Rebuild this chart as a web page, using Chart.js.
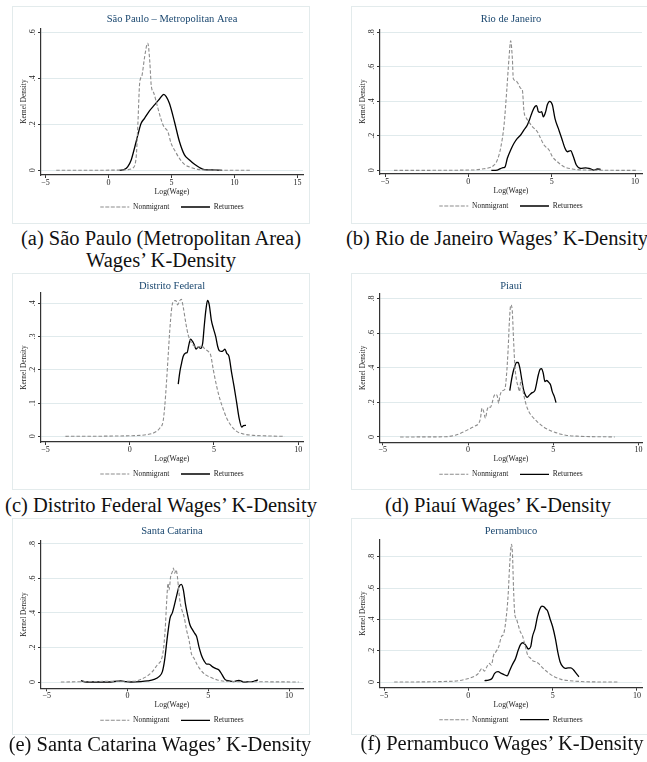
<!DOCTYPE html>
<html>
<head>
<meta charset="utf-8">
<script src="https://cdn.jsdelivr.net/npm/chart.js@4.4.1/dist/chart.umd.min.js"></script>
<style>
  body { margin: 0; width: 647px; height: 762px; overflow: hidden; background: #fff; position: relative; font-family: "Liberation Serif", "Times New Roman", serif; }
  .frame { position: absolute; border: 1px solid #e3ebec; box-sizing: border-box; width: 298px; }
  canvas { position: absolute; }
  .cap { position: absolute; width: 340px; text-align: center; font-size: 20.5px; line-height: 22px; color: #111; white-space: nowrap; }
</style>
</head>
<body>
<div class="frame" style="left:12px;top:6px;height:218px"></div>
<div class="frame" style="left:351px;top:6px;height:218px"></div>
<div class="frame" style="left:12px;top:273px;height:217px"></div>
<div class="frame" style="left:351px;top:273px;height:217px"></div>
<div class="frame" style="left:12px;top:518px;height:217px"></div>
<div class="frame" style="left:351px;top:518px;height:217px"></div>

<canvas id="ca" width="320" height="218" style="left:12px;top:6px"></canvas>
<canvas id="cb" width="320" height="218" style="left:351px;top:6px"></canvas>
<canvas id="cc" width="320" height="217" style="left:12px;top:273px"></canvas>
<canvas id="cd" width="320" height="217" style="left:351px;top:273px"></canvas>
<canvas id="ce" width="320" height="217" style="left:12px;top:518px"></canvas>
<canvas id="cf" width="320" height="217" style="left:351px;top:518px"></canvas>

<div class="cap" style="left:-9px;top:227px">(a) São Paulo (Metropolitan Area)<br>Wages’ K-Density</div>
<div class="cap" style="left:327px;top:227px">(b) Rio de Janeiro Wages’ K-Density</div>
<div class="cap" style="left:-9px;top:494px">(c) Distrito Federal Wages’ K-Density</div>
<div class="cap" style="left:328px;top:494px">(d) Piauí Wages’ K-Density</div>
<div class="cap" style="left:-10px;top:733px">(e) Santa Catarina Wages’ K-Density</div>
<div class="cap" style="left:332px;top:732px">(f) Pernambuco Wages’ K-Density</div>

<script>
  // panel titles and tick values
  let titles = ['São Paulo – Metropolitan Area', 'Rio de Janeiro', 'Distrito Federal', 'Piauí', 'Santa Catarina', 'Pernambuco'];
  let seriesNames = ['Nonmigrant', 'Returnees'];
  let xTicksWide = [-5, 0, 5, 10, 15];
  let xTicks = [-5, 0, 5, 10];
  let yTicks6 = [0, 0.2, 0.4, 0.6];
  let yTicks8 = [0, 0.2, 0.4, 0.6, 0.8];
  let yTicks4 = [0, 0.1, 0.2, 0.3, 0.4];

  // (a) Sao Paulo
  let spNonX = [-4.15, 0.9, 1.53, 1.93, 2.2, 2.33, 2.46, 2.55, 2.65, 2.86, 3.07, 3.12, 3.28, 3.39, 3.6, 3.92, 4.18, 4.39, 4.71, 4.97, 5.24, 5.63, 6.03, 6.56, 7.09, 8.15, 11.35];
  let spNonY = [0, 0.001, 0.003, 0.01, 0.06, 0.2, 0.37, 0.4, 0.41, 0.49, 0.55, 0.552, 0.47, 0.37, 0.335, 0.27, 0.22, 0.19, 0.168, 0.117, 0.088, 0.052, 0.026, 0.012, 0.004, 0.001, 0];
  let spRetX = [0.87, 1.27, 1.53, 1.8, 2.06, 2.33, 2.59, 2.86, 3.25, 3.65, 4.05, 4.39, 4.58, 4.84, 5.24, 5.63, 6.03, 6.43, 6.83, 7.22, 7.62, 8.15, 9.02];
  let spRetY = [0, 0.004, 0.016, 0.045, 0.096, 0.154, 0.204, 0.226, 0.258, 0.284, 0.31, 0.33, 0.32, 0.29, 0.21, 0.125, 0.067, 0.045, 0.026, 0.012, 0.003, 0.002, 0];

  // (b) Rio de Janeiro
  let rjNonX = [-4.46, 0.24, 0.84, 1.24, 1.54, 1.74, 1.94, 2.14, 2.3, 2.44, 2.54, 2.64, 2.7, 2.84, 3.0, 3.14, 3.24, 3.34, 3.44, 3.64, 3.84, 4.14, 4.34, 4.54, 4.84, 5.04, 5.34, 5.74, 6.24, 7.04, 10.1];
  let rjNonY = [0, 0.002, 0.008, 0.015, 0.03, 0.06, 0.13, 0.26, 0.456, 0.65, 0.75, 0.65, 0.53, 0.52, 0.5, 0.475, 0.466, 0.34, 0.31, 0.28, 0.253, 0.224, 0.185, 0.147, 0.118, 0.08, 0.05, 0.021, 0.008, 0.002, 0];
  let rjRetX = [1.38, 1.74, 2.04, 2.2, 2.34, 2.54, 2.74, 2.94, 3.14, 3.34, 3.54, 3.68, 3.84, 4.0, 4.1, 4.2, 4.3, 4.4, 4.5, 4.64, 4.74, 4.88, 5.04, 5.2, 5.4, 5.6, 5.8, 5.94, 6.14, 6.3, 6.48, 6.74, 7.04, 7.24, 7.54, 7.74, 7.94];
  let rjRetY = [0, 0.002, 0.015, 0.02, 0.07, 0.118, 0.157, 0.185, 0.205, 0.234, 0.263, 0.296, 0.34, 0.37, 0.375, 0.34, 0.336, 0.34, 0.31, 0.34, 0.38, 0.4, 0.38, 0.3, 0.243, 0.186, 0.128, 0.108, 0.114, 0.08, 0.031, 0.012, 0.015, 0.012, 0.002, 0.008, 0.006];

  // (c) Distrito Federal
  let dfNonX = [-3.81, 0.2, 0.99, 1.49, 1.79, 1.98, 2.08, 2.18, 2.28, 2.38, 2.48, 2.58, 2.74, 2.84, 2.94, 3.06, 3.17, 3.33, 3.47, 3.67, 3.87, 4.07, 4.27, 4.46, 4.66, 4.8, 4.96, 5.16, 5.36, 5.56, 5.75, 6.05, 6.35, 6.75, 7.34, 8.33, 9.2];
  let dfNonY = [0, 0.002, 0.005, 0.012, 0.025, 0.045, 0.09, 0.16, 0.24, 0.32, 0.38, 0.405, 0.408, 0.395, 0.405, 0.412, 0.39, 0.34, 0.305, 0.28, 0.27, 0.268, 0.272, 0.262, 0.255, 0.245, 0.2, 0.15, 0.11, 0.08, 0.055, 0.03, 0.015, 0.007, 0.003, 0.001, 0];
  let dfRetX = [2.88, 2.98, 3.08, 3.17, 3.31, 3.41, 3.51, 3.61, 3.73, 3.83, 3.93, 4.07, 4.21, 4.33, 4.42, 4.52, 4.62, 4.72, 4.84, 4.96, 5.1, 5.22, 5.32, 5.46, 5.56, 5.65, 5.75, 5.89, 6.05, 6.19, 6.35, 6.49, 6.65, 6.75, 6.9];
  let dfRetY = [0.157, 0.195, 0.22, 0.24, 0.25, 0.252, 0.275, 0.292, 0.285, 0.275, 0.262, 0.268, 0.264, 0.28, 0.33, 0.38, 0.408, 0.395, 0.35, 0.325, 0.3, 0.27, 0.257, 0.255, 0.258, 0.262, 0.25, 0.24, 0.19, 0.15, 0.1, 0.055, 0.028, 0.032, 0.033];

  // (d) Piaui
  let piNonX = [-3.98, -1.33, -0.75, -0.35, 0.04, 0.43, 0.63, 0.73, 0.82, 0.92, 1.02, 1.12, 1.22, 1.31, 1.41, 1.51, 1.61, 1.71, 1.8, 1.86, 2.0, 2.16, 2.25, 2.35, 2.43, 2.51, 2.59, 2.67, 2.75, 2.84, 2.94, 3.02, 3.1, 3.18, 3.29, 3.41, 3.57, 3.76, 3.96, 4.16, 4.45, 4.75, 5.14, 5.73, 6.5, 8.6];
  let piNonY = [0, 0.001, 0.01, 0.025, 0.044, 0.064, 0.079, 0.108, 0.166, 0.146, 0.108, 0.156, 0.175, 0.171, 0.195, 0.233, 0.247, 0.237, 0.195, 0.233, 0.266, 0.276, 0.349, 0.503, 0.676, 0.763, 0.734, 0.561, 0.407, 0.33, 0.29, 0.262, 0.33, 0.29, 0.233, 0.185, 0.146, 0.118, 0.098, 0.079, 0.056, 0.04, 0.025, 0.01, 0.004, 0];
  let piRetX = [2.45, 2.55, 2.65, 2.75, 2.84, 2.94, 3.04, 3.14, 3.24, 3.33, 3.47, 3.61, 3.76, 3.92, 4.02, 4.12, 4.22, 4.31, 4.41, 4.51, 4.61, 4.75, 4.84, 4.94, 5.06, 5.16];
  let piRetY = [0.268, 0.33, 0.378, 0.41, 0.43, 0.43, 0.397, 0.339, 0.281, 0.249, 0.229, 0.243, 0.256, 0.268, 0.31, 0.358, 0.391, 0.395, 0.368, 0.32, 0.326, 0.314, 0.3, 0.262, 0.233, 0.198];

  // (e) Santa Catarina
  let scNonX = [-4.12, -0.41, 0.41, 0.82, 1.23, 1.54, 1.85, 2.1, 2.22, 2.33, 2.43, 2.51, 2.57, 2.67, 2.78, 2.84, 2.92, 3.0, 3.09, 3.17, 3.25, 3.37, 3.5, 3.66, 3.81, 3.95, 4.12, 4.32, 4.53, 4.84, 5.14, 5.56, 6.07, 8.85, 10.6];
  let scNonY = [0, 0.004, 0.004, 0.015, 0.035, 0.06, 0.1, 0.131, 0.186, 0.3, 0.475, 0.572, 0.533, 0.61, 0.64, 0.66, 0.63, 0.65, 0.61, 0.533, 0.466, 0.417, 0.379, 0.3, 0.243, 0.166, 0.137, 0.099, 0.07, 0.041, 0.027, 0.012, 0.004, 0.001, 0];
  let scRetX = [-2.88, -2.57, -1.23, -0.41, -0.1, 0.21, 0.82, 1.23, 1.65, 1.95, 2.16, 2.3, 2.47, 2.63, 2.78, 2.88, 3.05, 3.19, 3.33, 3.46, 3.58, 3.7, 3.87, 4.01, 4.16, 4.28, 4.42, 4.57, 4.73, 4.9, 5.04, 5.25, 5.45, 5.66, 5.86, 6.03, 6.28, 6.58, 6.89, 7.2, 7.51, 7.82, 8.07];
  let scRetY = [0.008, 0, 0, 0.006, 0.002, 0, 0.002, 0.006, 0.015, 0.031, 0.06, 0.128, 0.263, 0.369, 0.402, 0.437, 0.504, 0.553, 0.566, 0.533, 0.456, 0.398, 0.33, 0.305, 0.282, 0.263, 0.205, 0.157, 0.124, 0.104, 0.104, 0.089, 0.079, 0.07, 0.041, 0.015, 0.006, 0.002, 0.01, 0, 0.002, 0.004, 0.012];

  // (f) Pernambuco
  let peNonX = [-4.4, -0.8, -0.2, 0.3, 0.6, 0.8, 0.96, 1.1, 1.24, 1.36, 1.5, 1.64, 1.8, 1.96, 2.1, 2.24, 2.36, 2.44, 2.52, 2.56, 2.62, 2.68, 2.76, 2.84, 2.96, 3.08, 3.2, 3.36, 3.52, 3.7, 3.84, 4.0, 4.16, 4.3, 4.5, 4.8, 5.1, 5.5, 6.0, 7.0, 8.94];
  let peNonY = [0, 0.006, 0.017, 0.034, 0.055, 0.087, 0.07, 0.098, 0.119, 0.108, 0.172, 0.194, 0.226, 0.289, 0.31, 0.406, 0.555, 0.726, 0.853, 0.879, 0.81, 0.598, 0.428, 0.406, 0.364, 0.321, 0.3, 0.236, 0.172, 0.151, 0.134, 0.13, 0.119, 0.102, 0.081, 0.055, 0.034, 0.017, 0.009, 0.002, 0];
  let peRetX = [0.96, 1.2, 1.4, 1.56, 1.76, 1.96, 2.16, 2.3, 2.44, 2.6, 2.8, 2.96, 3.1, 3.24, 3.4, 3.56, 3.7, 3.8, 3.96, 4.1, 4.24, 4.36, 4.48, 4.6, 4.7, 4.84, 5.0, 5.16, 5.3, 5.44, 5.6, 5.76, 5.92, 6.08, 6.24, 6.4, 6.56];
  let peRetY = [0.009, 0.013, 0.023, 0.055, 0.066, 0.055, 0.045, 0.04, 0.07, 0.109, 0.151, 0.204, 0.24, 0.251, 0.236, 0.211, 0.226, 0.289, 0.343, 0.417, 0.466, 0.485, 0.481, 0.466, 0.453, 0.406, 0.353, 0.279, 0.194, 0.13, 0.098, 0.087, 0.091, 0.091, 0.077, 0.055, 0.034];

  let serif = "'Liberation Serif', 'Times New Roman', serif";
  Chart.defaults.font.family = serif;

  let panels = [
    { id: 'ca', h: 218, plotTop: 22.3, padB: 3.25, title: titles[0], xMin: -5.36, xMax: 15.44, yMin: -0.0204, yMax: 0.617, xT: xTicksWide, yT: yTicks6, nx: spNonX, ny: spNonY, rx: spRetX, ry: spRetY },
    { id: 'cb', h: 218, plotTop: 23.3, padB: 4.25, title: titles[1], xMin: -5.3, xMax: 10.42, yMin: -0.021, yMax: 0.817, xT: xTicks, yT: yTicks8, nx: rjNonX, ny: rjNonY, rx: rjRetX, ry: rjRetY },
    { id: 'cc', h: 217, plotTop: 20, padB: 2.25, title: titles[2], xMin: -5.26, xMax: 10.28, yMin: -0.017, yMax: 0.4306, xT: xTicks, yT: yTicks4, nx: dfNonX, ny: dfNonY, rx: dfRetX, ry: dfRetY },
    { id: 'cd', h: 217, plotTop: 20.3, padB: 1.95, title: titles[3], xMin: -5.16, xMax: 10.2, yMin: -0.031, yMax: 0.83, xT: xTicks, yT: yTicks8, nx: piNonX, ny: piNonY, rx: piRetX, ry: piRetY },
    { id: 'ce', h: 217, plotTop: 22.7, padB: 0.95, title: titles[4], xMin: -5.35, xMax: 10.86, yMin: -0.0365, yMax: 0.819, xT: xTicks, yT: yTicks8, nx: scNonX, ny: scNonY, rx: scRetX, ry: scRetY },
    { id: 'cf', h: 217, plotTop: 21.3, padB: 1.55, title: titles[5], xMin: -5.24, xMax: 10.3, yMin: -0.036, yMax: 0.911, xT: xTicks, yT: yTicks8, nx: peNonX, ny: peNonY, rx: peRetX, ry: peRetY }
  ];

  function toPoints(xs, ys) {
    let pts = [];
    for (let i in xs) {
      pts.push({ x: xs[i], y: ys[i] });
    }
    return pts;
  }

  function fmtX(value) {
    return value < 0 ? '\u2212' + (-value) : String(value);
  }

  function fmtY(value) {
    return value === 0 ? '0' : String(value).replace(/^0/, '');
  }

  function makeChart(p) {
    let graphTarget = document.getElementById(p.id);
    new Chart(graphTarget, {
      type: 'line',
      data: {
        datasets: [{
          label: seriesNames[0],
          data: toPoints(p.nx, p.ny),
          borderColor: '#8c8c8c',
          backgroundColor: 'rgba(0,0,0,0)',
          borderWidth: 1.1,
          borderDash: [3.5, 2],
          pointRadius: 0,
          cubicInterpolationMode: 'monotone',
          fill: false
        }, {
          label: seriesNames[1],
          data: toPoints(p.rx, p.ry),
          borderColor: '#000000',
          backgroundColor: 'rgba(0,0,0,0)',
          borderWidth: 1.3,
          pointRadius: 0,
          cubicInterpolationMode: 'monotone',
          fill: false
        }]
      },
      options: {
        responsive: false,
        animation: false,
        events: [],
        layout: { padding: { left: 0, right: 0, top: 0, bottom: p.padB } },
        plugins: {
          title: {
            display: true,
            text: p.title,
            color: '#1a476f',
            font: { family: serif, size: 10.5, weight: 'normal' },
            padding: { top: 7, bottom: p.plotTop - 19.6 }
          },
          legend: {
            position: 'bottom',
            labels: {
              boxWidth: 29,
              boxHeight: 0,
              padding: 11.7,
              color: '#222',
              font: { family: serif, size: 7.5 }
            }
          },
          tooltip: { enabled: false }
        },
        scales: {
          x: {
            type: 'linear',
            min: p.xMin,
            max: p.xMax,
            afterBuildTicks: function(s) { s.ticks = p.xT.map(v => ({ value: v })); },
            afterFit: function(s) { s.height = 16.55; },
            grid: { drawOnChartArea: false, drawTicks: true, tickLength: 3, tickColor: '#333' },
            border: { color: '#333', width: 1.2 },
            ticks: { padding: 0, maxRotation: 0, color: '#222', font: { family: serif, size: 8 }, callback: fmtX },
            title: { display: true, text: 'Log(Wage)', color: '#222', font: { family: serif, size: 7.7 }, padding: { top: 0, bottom: -5 } }
          },
          y: {
            type: 'linear',
            position: 'left',
            min: p.yMin,
            max: p.yMax,
            afterBuildTicks: function(s) { s.ticks = p.yT.map(v => ({ value: v })); },
            afterFit: function(s) { s.width = 29; },
            grid: { color: '#e0eaec', lineWidth: 1, tickColor: '#333', tickLength: 3 },
            border: { color: '#333', width: 1.2 },
            ticks: { minRotation: 90, maxRotation: 90, crossAlign: 'center', padding: 2, color: '#222', font: { family: serif, size: 8 }, callback: fmtY },
            title: { display: true, text: 'Kernel Density', color: '#222', font: { family: serif, size: 7.3 }, padding: { top: 7.6, bottom: 0 } }
          },
          y2: {
            type: 'linear',
            position: 'right',
            ticks: { display: false },
            grid: { display: false },
            border: { display: false },
            afterFit: function(s) { s.width = 29; }
          }
        }
      }
    });
  }

  for (let i in panels) {
    makeChart(panels[i]);
  }
</script>
</body>
</html>
